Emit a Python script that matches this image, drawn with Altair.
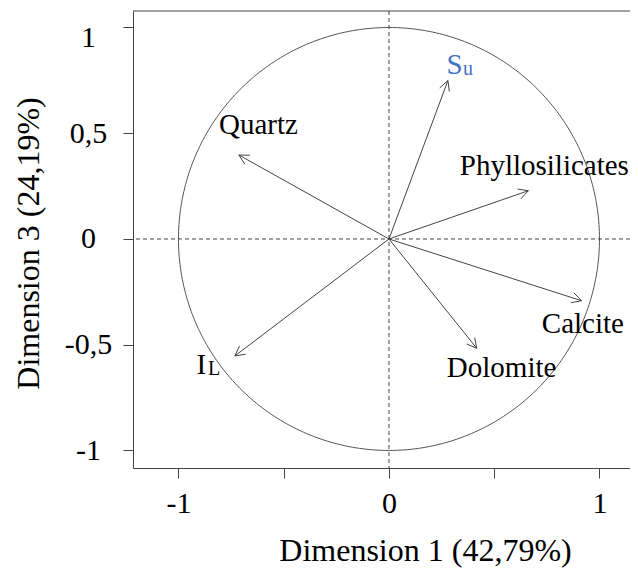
import numpy as np
import pandas as pd
import altair as alt

# Arrow tips (Dimension 1, Dimension 3)
var_names = ["Su", "Quartz", "Phyllosilicates", "Calcite", "Dolomite", "IL"]
dim1 = [0.280, -0.713, 0.662, 0.915, 0.417, -0.732]
dim3 = [0.749, 0.397, 0.228, -0.292, -0.517, -0.553]

# Plain labels
label_text = ["Quartz", "Phyllosilicates", "Calcite", "Dolomite"]
label_x = [-0.62, 0.738, 0.921, 0.535]
label_y = [0.497, 0.303, -0.446, -0.653]

# Labels with subscripts (main letter + subscript)
sub_main = ["S", "I"]
sub_main_x = [0.273, -0.914]
sub_main_y = [0.779, -0.639]
sub_main_color = ["#4472C4", "#000000"]
sub_small = ["u", "L"]
sub_small_x = [0.352, -0.860]
sub_small_y = [0.776, -0.643]
sub_small_color = ["#4472C4", "#000000"]

x_ticks = [-1, -0.5, 0, 0.5, 1]
y_ticks = [-1, -0.5, 0, 0.5, 1]

W, H = 497, 457
FONT = "Liberation Serif"
GRAY = "#444444"

xs = alt.Scale(domain=[-1.216, 1.145], nice=False, zero=False)
ys = alt.Scale(domain=[-1.083, 1.078], nice=False, zero=False)

x_axis = alt.Axis(
    values=x_ticks, tickSize=10, grid=False, domainColor=GRAY, tickColor=GRAY,
    labelExpr="datum.value == 0 ? '0' : datum.value == 1 ? '1' : datum.value == -1 ? '-1' : ''",
    labelFont=FONT, labelFontSize=30, labelColor="black", labelPadding=10,
    labelFlush=False, labelOverlap=False,
    title="Dimension 1 (42,79%)", titleFont=FONT, titleFontSize=32,
    titleFontWeight="normal", titleColor="black", titleX=292, titleY=92,
    titleAlign="center", titleBaseline="alphabetic",
)
y_axis = alt.Axis(
    values=y_ticks, tickSize=10, grid=False, domainColor=GRAY, tickColor=GRAY,
    labelExpr="datum.value == 0 ? '0' : datum.value == 1 ? '1' : datum.value == -1 ? '-1' : datum.value == 0.5 ? '0,5' : '-0,5'",
    labelFont=FONT, labelFontSize=30, labelColor="black", labelPadding=35,
    labelAlign="center", labelBaseline="middle", labelFlush=False, labelOverlap=False,
    labelOffset={"condition": {"test": "datum.value == 1", "value": 10}, "value": 0},
    title="Dimension 3 (24,19%)", titleFont=FONT, titleFontSize=32,
    titleFontWeight="normal", titleColor="black", titleX=-95, titleY=232,
    titleAlign="center", titleBaseline="alphabetic", titleAngle=270,
)


def X(field):
    return alt.X(field, scale=xs, axis=x_axis)


def Y(field):
    return alt.Y(field, scale=ys, axis=y_axis)


# unit circle
theta = np.linspace(0, 2 * np.pi, 361)
circle_df = pd.DataFrame({"x": np.cos(theta), "y": np.sin(theta), "o": np.arange(361)})
circle = alt.Chart(circle_df).mark_line(color="#555555", strokeWidth=1).encode(
    x=X("x:Q"), y=Y("y:Q"), order="o:Q",
)

zero_df = pd.DataFrame({"z": [0.0]})
hline = alt.Chart(zero_df).mark_rule(color=GRAY, strokeDash=[4, 3], strokeWidth=1).encode(
    y=Y("z:Q")
)
vline = alt.Chart(zero_df).mark_rule(color=GRAY, strokeDash=[4, 3], strokeWidth=1).encode(
    x=X("z:Q")
)

arrows_df = pd.DataFrame({"name": var_names, "x": dim1, "y": dim3, "x0": 0.0, "y0": 0.0})
shafts = alt.Chart(arrows_df).mark_rule(color=GRAY, strokeWidth=1).encode(
    x=X("x0:Q"), y=Y("y0:Q"), x2="x:Q", y2="y:Q",
)

# arrow heads (open V, like R's arrows())
head_len = 0.052
head_ang = np.deg2rad(28)
rows = []
for n, tx, ty in zip(var_names, dim1, dim3):
    a = np.arctan2(ty, tx)
    for s in (-1, 1):
        rows.append({"name": n, "x": tx, "y": ty,
                     "hx": tx - head_len * np.cos(a + s * head_ang),
                     "hy": ty - head_len * np.sin(a + s * head_ang)})
heads = alt.Chart(pd.DataFrame(rows)).mark_rule(color=GRAY, strokeWidth=1).encode(
    x=X("x:Q"), y=Y("y:Q"), x2="hx:Q", y2="hy:Q",
)

labels_df = pd.DataFrame({"t": label_text, "x": label_x, "y": label_y})
labels = alt.Chart(labels_df).mark_text(
    font=FONT, fontSize=29, color="black", align="center", baseline="alphabetic"
).encode(x=X("x:Q"), y=Y("y:Q"), text="t:N")

main_df = pd.DataFrame({"t": sub_main, "x": sub_main_x, "y": sub_main_y, "c": sub_main_color})
mains = alt.Chart(main_df).mark_text(
    font=FONT, fontSize=29, align="left", baseline="alphabetic"
).encode(x=X("x:Q"), y=Y("y:Q"), text="t:N", color=alt.Color("c:N", scale=None))

small_df = pd.DataFrame({"t": sub_small, "x": sub_small_x, "y": sub_small_y, "c": sub_small_color})
smalls = alt.Chart(small_df).mark_text(
    font=FONT, fontSize=20, align="left", baseline="alphabetic"
).encode(x=X("x:Q"), y=Y("y:Q"), text="t:N", color=alt.Color("c:N", scale=None))

top_border = alt.Chart(zero_df).mark_rule(color=GRAY, strokeWidth=1).encode(
    x=alt.value(0), x2=alt.value(W), y=alt.value(0)
)

chart = alt.layer(
    circle, hline, vline, shafts, heads, labels, mains, smalls, top_border
).properties(
    width=W, height=H,
    padding={"left": 125, "top": 3, "right": 0, "bottom": 107},
    autosize=alt.AutoSizeParams(type="none"),
).configure_view(stroke=None)

chart.save("out.html", embed_options={"renderer": "svg", "actions": False})
